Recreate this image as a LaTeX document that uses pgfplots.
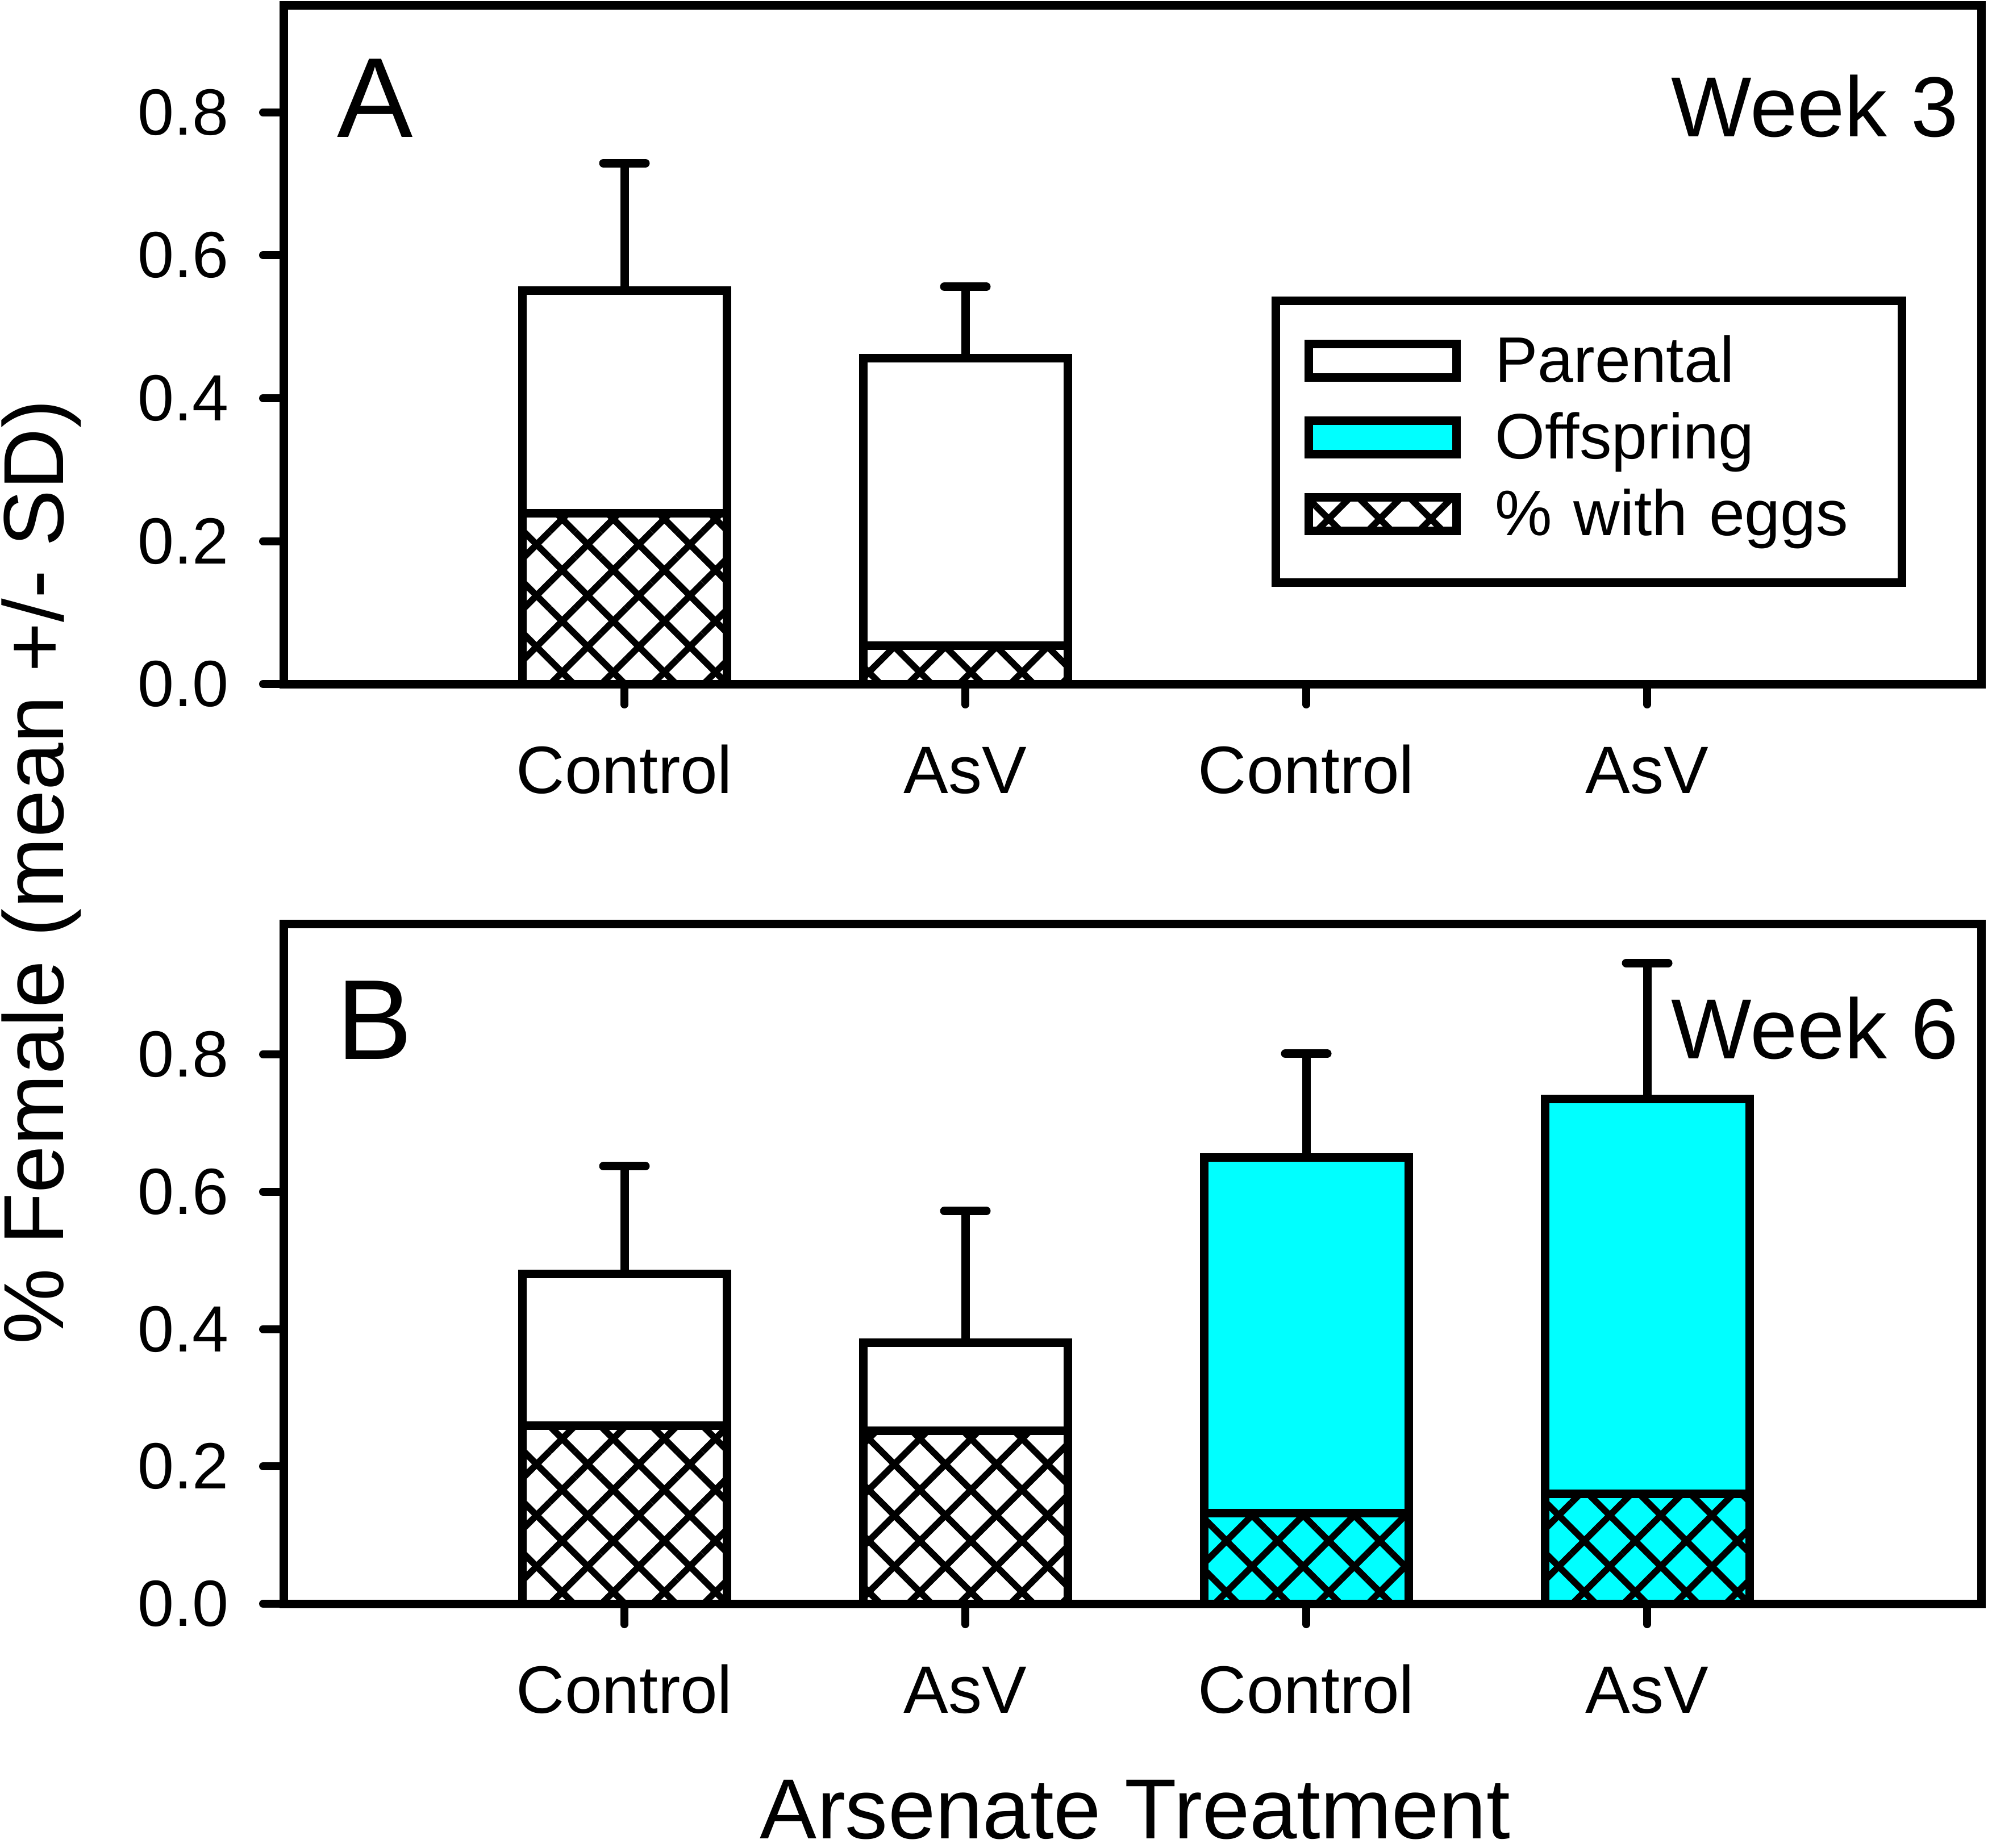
\documentclass[border=0pt]{standalone}
\usepackage{fontspec}
\setmainfont{Liberation Sans}
\usepackage{pgfplots}
\pgfplotsset{compat=1.18}
\usetikzlibrary{patterns.meta}

\definecolor{offcyan}{RGB}{0,255,255}

\tikzset{
  hatchpat/.style={postaction={pattern={Hatch[angle=45,distance=6.36pt,line width=1.15pt]},pattern color=black}},
}

\pgfplotsset{
  panel/.style={
    scale only axis,
    width=298.8pt,
    xmin=0, xmax=4.98,
    ymin=0,
    enlargelimits=false,
    axis line style={line width=1.5pt},
    tick align=outside,
    xtick pos=lower, ytick pos=left,
    major tick length=3.6pt,
    every tick/.style={black, line width=1.4pt, line cap=round},
    xtick={1,2,3,4},
    xticklabels={Control,AsV,Control,AsV},
    ytick={0,0.2,0.4,0.6,0.8},
    /pgf/number format/assume math mode=true,
    yticklabel={\pgfmathprintnumber[fixed,fixed zerofill,precision=1]{\tick}},
    tick label style={font=\fontsize{11.8}{14}\selectfont},
    xticklabel style={anchor=base, inner sep=0pt, yshift=-15.6pt},
    yticklabel style={anchor=east, inner sep=0pt, xshift=-5.9pt, font=\fontsize{11.5}{14}\selectfont},
    ybar, bar width=0.6,
    legend image code/.code={\draw[##1] (0pt,-2.2pt) rectangle (26pt,3.7pt);},
  },
  barstyle/.style={draw=black, line width=1.5pt, bar shift=0pt},
  errstyle/.style={error bars/.cd, y dir=plus, y explicit,
    error bar style={line width=1.5pt, black},
    error mark options={rotate=90, line width=1.5pt, black, mark size=3.7pt, line cap=round}},
}

\begin{document}
\begin{tikzpicture}
\useasboundingbox (0,0) rectangle (350.6pt,-325.2pt);

% ---------- Panel A: Week 3 ----------
\begin{axis}[panel,
  at={(49.9pt,-120.4pt)}, anchor=south west,
  height=119.5pt, ymax=0.95,
  legend cell align=left,
  legend style={at={(rel axis cs:0.5821,0.5708)}, anchor=north west,
    draw=black, line width=1.5pt,
    inner xsep=5.05pt, inner ysep=5.95pt,
    font=\fontsize{11.3}{13}\selectfont,
    column sep=6.0pt, row sep=2.8pt,
    nodes={inner sep=0pt, text height=8.3pt, text depth=2.4pt},
    /tikz/every even column/.append style={text width=66.6pt, align=left}},
]
\addplot[barstyle, fill=white, errstyle]
  coordinates {(1,0.551) +- (0,0.178) (2,0.456) +- (0,0.100)};
\addlegendentry{Parental}
\addlegendimage{draw=black, line width=1.5pt, fill=offcyan}
\addlegendentry{Offspring}
\addplot[barstyle, fill=white, hatchpat]
  coordinates {(1,0.239) (2,0.054)};
\addlegendentry{\% with eggs}
\end{axis}

% ---------- Panel B: Week 6 ----------
\begin{axis}[panel,
  at={(49.9pt,-282.3pt)}, anchor=south west,
  height=119.7pt, ymax=0.99,
]
\addplot[barstyle, fill=white, errstyle]
  coordinates {(1,0.480) +- (0,0.157) (2,0.380) +- (0,0.192)};
\addplot[barstyle, fill=offcyan, errstyle]
  coordinates {(3,0.650) +- (0,0.151) (4,0.735) +- (0,0.198)};
\addplot[barstyle, fill=white, hatchpat]
  coordinates {(1,0.259) (2,0.252)};
\addplot[barstyle, fill=offcyan, hatchpat]
  coordinates {(3,0.132) (4,0.160)};
\end{axis}

% ---------- Texts ----------
\node[anchor=base west, inner sep=0pt, font=\fontsize{20}{24}\selectfont] at (59.1pt,-24.1pt) {A};
\node[anchor=base east, inner sep=0pt, font=\fontsize{15}{18}\selectfont] at (344.9pt,-24.0pt) {Week 3};
\node[anchor=base west, inner sep=0pt, font=\fontsize{20}{24}\selectfont] at (59.0pt,-186.4pt) {B};
\node[anchor=base east, inner sep=0pt, font=\fontsize{15}{18}\selectfont] at (344.9pt,-186.3pt) {Week 6};
\node[anchor=base, inner sep=0pt, rotate=90, font=\fontsize{15}{18}\selectfont] at (11.1pt,-153.5pt) {\% Female (mean +/- SD)};
\node[anchor=base, inner sep=0pt, font=\fontsize{15}{18}\selectfont] at (199.8pt,-323.6pt) {Arsenate Treatment};
\end{tikzpicture}
\end{document}
